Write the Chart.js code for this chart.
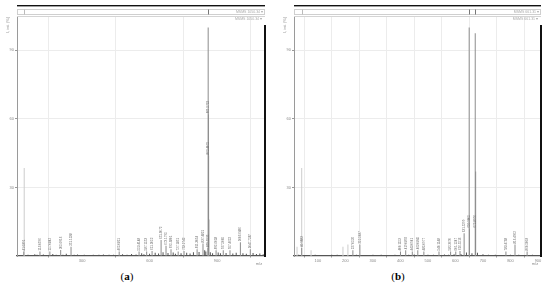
<!DOCTYPE html>
<html lang="en">
<head>
<meta charset="UTF-8">
<title>MS/MS spectra</title>
<script src="https://cdn.jsdelivr.net/npm/chart.js"></script>
<style>
  html, body { margin: 0; padding: 0; background: #fff; }
  body { width: 550px; height: 288px; position: relative; overflow: hidden; }
  canvas { position: absolute; top: 0; }
  #specA { left: 0; }
  #specB { left: 275px; }
  .caption { position: absolute; top: 270px; width: 40px; text-align: center;
             font-family: "Liberation Serif", serif; font-size: 11px; color: #000; }
  .caption b { font-weight: bold; }
</style>
</head>
<body>
<canvas id="specA" width="275" height="268"></canvas>
<canvas id="specB" width="275" height="268"></canvas>
<div class="caption" style="left:107px">(<b>a</b>)</div>
<div class="caption" style="left:378px">(<b>b</b>)</div>

<script>
// ---- panel (a) ----
const peakMzA    = [41.0391, 113.0596, 157.0842, 205.0916, 251.1238, 465.0811, 553.4148, 587.1553,
                    611.2052, 651.3072, 673.1795, 695.3801, 727.1851, 753.2742, 811.3054, 837.4821,
                    859.5525, 860.5, 861.5752, 862.4075, 863.5, 895.6058, 927.5005, 957.4652,
                    1003.6486, 1047.7287];
const peakIntA   = [2.0, 2.0, 2.0, 2.6, 4.0, 2.0, 2.0, 2.0,
                    2.2, 7.0, 4.5, 3.0, 2.0, 2.2, 3.0, 5.5,
                    3.5, 100, 62, 44, 16, 2.5, 2.5, 2.5,
                    6.0, 3.0];
const peakLabelA = ['41.0391', '113.0596', '157.0842', '205.0916', '251.1238', '465.0811', '553.4148', '587.1553',
                    '611.2052', '651.3072', '673.1795', '695.3801', '727.1851', '753.2742', '811.3054', '837.4821',
                    '859.5525', null, '861.5752', '862.4075', null, '895.6058', '927.5005', '957.4652',
                    '1003.6486', '1047.7287'];
const greyMzA  = [43];
const greyIntA = [38.5];
const noiseMzA  = [60, 75, 90, 100, 128, 140, 170, 185, 215, 230, 265, 280, 310, 330, 350, 375, 395, 420,
                   440, 480, 500, 520, 540, 565, 575, 600, 625, 640, 660, 682, 705, 715, 740, 765, 780, 795,
                   820, 845, 850, 870, 880, 905, 915, 940, 970, 985, 1015, 1030, 1060, 1075, 1090, 1105];
const noiseIntA = [0.6, 0.4, 0.8, 0.5, 0.7, 0.4, 0.9, 0.5, 0.6, 1.0, 0.5, 0.7, 0.5, 0.4, 0.6, 0.5, 0.7, 0.5,
                   0.6, 0.8, 0.5, 0.9, 0.7, 1.2, 0.8, 1.0, 1.4, 1.1, 1.6, 1.3, 1.5, 1.0, 1.2, 1.4, 1.1, 1.6,
                   1.8, 2.5, 2.0, 1.6, 1.2, 1.5, 1.2, 1.3, 1.1, 1.4, 1.2, 1.0, 1.3, 0.9, 1.1, 0.8];
const xTicksA = [300, 600, 900];

// ---- panel (b) ----
const peakMzB    = [40.9883, 227.0526, 252.5037, 400.1153, 419.0892, 443.0941, 463.0845, 485.0977,
                    540.1148, 582.3670, 601.1247, 616.5516, 631.5299, 649.9, 650.9005, 671.9, 672.8976,
                    673.4, 783.4738, 816.4962, 860.5003];
const peakIntB   = [3.5, 2.5, 5.0, 2.0, 2.5, 2.0, 2.5, 2.0,
                    2.0, 2.0, 2.0, 2.2, 10.0, 100, 12, 97.5, 12,
                    37, 2.0, 5.0, 2.0];
const peakLabelB = ['40.9883', '227.0526', '252.5037', '400.1153', '419.0892', '443.0941', '463.0845', '485.0977',
                    '540.1148', '582.3670', '601.1247', '616.5516', '631.5299', null, '650.9005', null, '672.8976',
                    null, '783.4738', '816.4962', '860.5003'];
const greyMzB  = [24, 41, 75, 191, 209];
const greyIntB = [4.0, 38.5, 2.5, 4.0, 5.0];
const noiseMzB  = [30, 55, 90, 120, 150, 170, 240, 270, 300, 330, 360, 380, 430, 450, 500, 520,
                   560, 575, 595, 620, 640, 660, 680, 700, 720, 745, 760, 800, 830, 845, 880, 900];
const noiseIntB = [0.5, 0.4, 0.6, 0.4, 0.5, 0.6, 0.5, 0.4, 0.6, 0.5, 0.4, 0.6, 0.5, 0.7, 0.5, 0.6,
                   0.7, 0.5, 0.8, 0.9, 1.5, 1.2, 1.4, 0.8, 0.5, 0.6, 0.4, 0.6, 0.5, 0.4, 0.5, 0.4];
const xTicksB = [100, 200, 300, 400, 500, 600, 700, 800, 900];

const yTicks = [30, 60, 90];

const LINE = '#8c8c8c';
const LIGHT = '#cccccc';
const TXT = '#8a8a8a';

function pts(mz, ints) {
    return mz.map((m, i) => ({ x: m, y: ints[i] }));
}

// rotated peak annotations, drawn above each peak top
const peakLabels = {
    id: 'peakLabels',
    afterDatasetsDraw(chart, args, opts) {
        const { ctx, scales: { x, y } } = chart;
        ctx.save();
        ctx.fillStyle = '#666';
        ctx.font = '3px "Liberation Sans", sans-serif';
        ctx.textAlign = 'left';
        ctx.textBaseline = 'middle';
        opts.mz.forEach((m, i) => {
            const lab = opts.labels[i];
            if (!lab) return;
            const px = x.getPixelForValue(m);
            const py = y.getPixelForValue(opts.ints[i]);
            ctx.save();
            ctx.translate(px, py - 1);
            ctx.rotate(-Math.PI / 2);
            ctx.fillText(lab, 0, 0);
            ctx.restore();
        });
        ctx.restore();
    }
};

// frame, overview strip, titles
const decor = {
    id: 'decor',
    afterDraw(chart, args, opts) {
        const { ctx, chartArea: a, scales: { x } } = chart;
        const w = a.right - a.left;
        ctx.save();
        ctx.strokeStyle = '#d4d4d4';
        ctx.lineWidth = 1;
        ctx.beginPath();
        ctx.moveTo(a.left, a.top + 0.5);
        ctx.lineTo(a.right, a.top + 0.5);
        ctx.stroke();

        // black rule on top
        ctx.fillStyle = '#111';
        ctx.fillRect(a.left, 5, w, 1.4);

        // overview strip
        ctx.strokeStyle = '#cfcfcf';
        ctx.strokeRect(a.left + 0.5, 9.5, w - 1, 5);
        opts.mz.forEach((m, i) => {
            if (opts.ints[i] < 90) return;
            ctx.fillStyle = '#777';
            ctx.fillRect(Math.round(x.getPixelForValue(m)), 9.5, 1, 5);
        });
        opts.greyMz.forEach((m, i) => {
            if (opts.greyInts[i] < 30) return;
            ctx.fillStyle = '#bbb';
            ctx.fillRect(Math.round(x.getPixelForValue(m)), 9.5, 1, 5);
        });

        // thick bar on the right
        ctx.fillStyle = '#111';
        ctx.fillRect(Math.round(a.right) - 1, a.top + 9, 2, a.bottom - a.top - 8);

        ctx.fillStyle = '#aaa';
        ctx.font = '3.5px "Liberation Sans", sans-serif';
        ctx.textAlign = 'right';
        ctx.textBaseline = 'middle';
        ctx.fillText(opts.msms + ' \u25BE', a.right - 2, 12);
        ctx.fillText(opts.msms + ' \u25BE', a.right - 3, a.top + 3.5);

        // axis titles
        ctx.fillStyle = TXT;
        ctx.font = '4px "Liberation Sans", sans-serif';
        ctx.textAlign = 'center';
        ctx.fillText('m/z', a.right - 6, a.bottom + 7.5);
        ctx.save();
        ctx.translate(a.left - 9, a.top + 9);
        ctx.rotate(-Math.PI / 2);
        ctx.fillText('I, int. (%)', 0, 0);
        ctx.restore();
        ctx.restore();
    }
};

function makeSpectrum(id, cfg) {
    const tickFont = { family: 'Liberation Sans', size: 4 };
    return new Chart(document.getElementById(id), {
        type: 'bar',
        data: {
            datasets: [
                { data: pts(cfg.mz, cfg.ints), backgroundColor: LINE, order: 1 },
                { data: pts(cfg.noiseMz, cfg.noiseInts), backgroundColor: '#555', order: 2 },
                { data: pts(cfg.greyMz, cfg.greyInts), backgroundColor: LIGHT, order: 3 }
            ]
        },
        options: {
            responsive: false,
            animation: false,
            devicePixelRatio: 1,
            layout: { padding: { left: cfg.padLeft, right: cfg.padRight, top: 16, bottom: 0 } },
            datasets: { bar: { barThickness: 1, grouped: false, inflateAmount: 0 } },
            plugins: {
                legend: { display: false },
                tooltip: { enabled: false },
                peakLabels: { mz: cfg.mz, ints: cfg.ints, labels: cfg.labels },
                decor: { mz: cfg.mz, ints: cfg.ints, greyMz: cfg.greyMz, greyInts: cfg.greyInts, msms: cfg.msms }
            },
            scales: {
                x: {
                    type: 'linear',
                    min: cfg.xMin,
                    max: cfg.xMax,
                    offset: false,
                    afterBuildTicks: s => { s.ticks = cfg.xTicks.map(v => ({ value: v })); },
                    afterFit: s => { s.height = 12; },
                    grid: { color: '#ececec', tickLength: 1.5, tickColor: '#999' },
                    border: { color: '#555', width: 1.2 },
                    ticks: { font: tickFont, color: TXT, padding: 1, maxRotation: 0 }
                },
                y: {
                    min: 0,
                    max: 105,
                    afterBuildTicks: s => { s.ticks = yTicks.map(v => ({ value: v })); },
                    afterFit: s => { s.width = 10; },
                    grid: { color: '#ececec', tickLength: 2, tickColor: '#999' },
                    border: { color: '#9a9a9a', width: 1 },
                    ticks: { font: tickFont, color: TXT, padding: 1 }
                }
            }
        },
        plugins: [peakLabels, decor]
    });
}

makeSpectrum('specA', {
    mz: peakMzA, ints: peakIntA, labels: peakLabelA,
    greyMz: greyMzA, greyInts: greyIntA, noiseMz: noiseMzA, noiseInts: noiseIntA,
    xTicks: xTicksA, xMin: 11, xMax: 1113, padLeft: 7, padRight: 10, msms: 'MSMS 1050.34'
});

makeSpectrum('specB', {
    mz: peakMzB, ints: peakIntB, labels: peakLabelB,
    greyMz: greyMzB, greyInts: greyIntB, noiseMz: noiseMzB, noiseInts: noiseIntB,
    xTicks: xTicksB, xMin: 13, xMax: 911, padLeft: 9, padRight: 9, msms: 'MSMS 661.31'
});
</script>
</body>
</html>
